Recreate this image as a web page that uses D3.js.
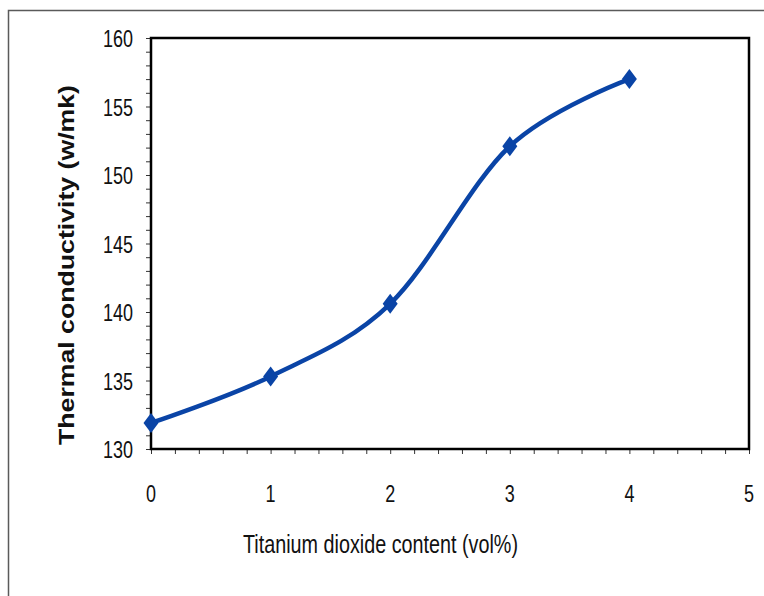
<!DOCTYPE html>
<html>
<head>
<meta charset="utf-8">
<script src="https://cdn.jsdelivr.net/npm/d3@7"></script>
<style>
  body { margin: 0; background: #fff; }
  svg { display: block; }
</style>
</head>
<body>
<div id="chart"></div>
<script>
// Titanium dioxide content vs thermal conductivity
const contents = [0, 1, 2, 3, 4];
const conductivity = [131.9, 135.3, 140.6, 152.1, 157.0];
const xTicks = [0, 1, 2, 3, 4, 5];
const yTicks = [130, 135, 140, 145, 150, 155, 160];

const width = 764, height = 596;
const margin = { left: 151, top: 38, right: 15, bottom: 147 };

const svg = d3.select('#chart').append('svg')
    .attr('width', width)
    .attr('height', height);

// outer frame (cut off by the picture on the right and bottom)
svg.append('rect')
    .attr('x', 8.5).attr('y', 10.5)
    .attr('width', 900).attr('height', 900)
    .attr('fill', 'none')
    .attr('stroke', '#5a5a5a')
    .attr('stroke-width', 1.5);

const x = d3.scaleLinear().domain([0, 5]).range([margin.left, width - margin.right]);
const y = d3.scaleLinear().domain([130, 160]).range([height - margin.bottom, margin.top]);

// the labels look like a tall, narrow font, so squeeze a normal one
const font = "'Liberation Sans', Arial, sans-serif";

// minor ticks
svg.append('g')
    .attr('transform', `translate(0,${y(130)})`)
    .call(d3.axisBottom(x).tickValues(d3.range(0, 5.01, 0.2)).tickSize(5).tickFormat(''))
    .call(g => g.select('.domain').remove())
    .call(g => g.selectAll('line').attr('stroke', '#333'));

svg.append('g')
    .attr('transform', `translate(${x(0)},0)`)
    .call(d3.axisLeft(y).tickValues(d3.range(130, 160.01, 1)).tickSize(5).tickFormat(''))
    .call(g => g.select('.domain').remove())
    .call(g => g.selectAll('line').attr('stroke', '#333'));

// tick labels
svg.append('g').selectAll('text')
    .data(xTicks)
    .enter().append('text')
    .attr('x', d => x(d))
    .attr('y', 502)
    .attr('text-anchor', 'middle')
    .attr('textLength', d => String(d).length * 10)
    .attr('lengthAdjust', 'spacingAndGlyphs')
    .style('font-family', font)
    .style('font-size', '23px')
    .style('fill', '#111')
    .text(d => d);

svg.append('g').selectAll('text')
    .data(yTicks)
    .enter().append('text')
    .attr('x', x(0) - 48)
    .attr('y', d => y(d) + 9)
    .attr('textLength', d => String(d).length * 10)
    .attr('lengthAdjust', 'spacingAndGlyphs')
    .style('font-family', font)
    .style('font-size', '24px')
    .style('fill', '#111')
    .text(d => d);

// plot frame
svg.append('rect')
    .attr('x', x(0)).attr('y', y(160))
    .attr('width', x(5) - x(0)).attr('height', y(130) - y(160))
    .attr('fill', 'none')
    .attr('stroke', '#000')
    .attr('stroke-width', 2.5);

// axis titles
svg.append('text')
    .attr('x', 243)
    .attr('y', 553)
    .attr('textLength', 275)
    .attr('lengthAdjust', 'spacingAndGlyphs')
    .style('font-family', font)
    .style('font-size', '26px')
    .style('fill', '#111')
    .text('Titanium dioxide content (vol%)');

svg.append('text')
    .attr('transform', 'translate(74,445) rotate(-90)')
    .attr('textLength', 360)
    .attr('lengthAdjust', 'spacingAndGlyphs')
    .style('font-family', font)
    .style('font-size', '22px')
    .style('font-weight', 'bold')
    .style('fill', '#111')
    .text('Thermal conductivity (w/mk)');

// data line
const data = contents.map((c, i) => ({ c, v: conductivity[i] }));
const line = d3.line()
    .x(d => x(d.c))
    .y(d => y(d.v))
    .curve(d3.curveCardinal);

svg.append('path')
    .datum(data)
    .attr('d', line)
    .attr('fill', 'none')
    .attr('stroke', '#0a44a6')
    .attr('stroke-width', 4.5);

// diamond markers
svg.append('g').selectAll('path')
    .data(data)
    .enter().append('path')
    .attr('transform', d => `translate(${x(d.c)},${y(d.v)})`)
    .attr('d', 'M0,-10L7.5,0L0,10L-7.5,0Z')
    .attr('fill', '#0a44a6');
</script>
</body>
</html>
